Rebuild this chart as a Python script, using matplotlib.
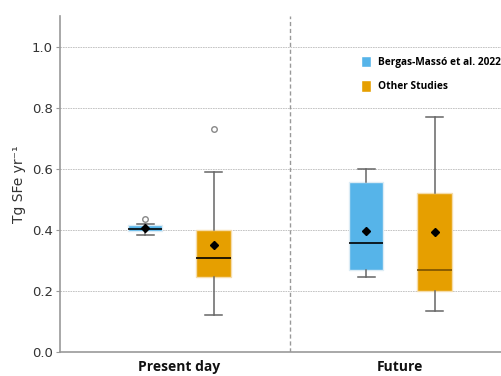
import matplotlib
matplotlib.use("Agg")
import matplotlib.pyplot as plt
from matplotlib.patches import Patch

groups = ["Present day", "Future"]
series = ["Bergas-Massó et al. 2022", "Other Studies"]
colors = ["#56B4E9", "#E69F00"]

# stats per (group, series): whislo, q1, med, q3, whishi, mean, outliers
whislo = [[0.383, 0.120], [0.246, 0.135]]
q1 = [[0.396, 0.246], [0.270, 0.199]]
med = [[0.404, 0.307], [0.358, 0.268]]
q3 = [[0.415, 0.401], [0.557, 0.521]]
whishi = [[0.421, 0.590], [0.601, 0.770]]
means = [[0.407, 0.350], [0.396, 0.392]]
fliers = [[[0.436], [0.730]], [[], []]]

fig = plt.figure(figsize=(5.02, 3.76), dpi=100)
ax = fig.add_axes([0.1195, 0.0638, 0.8805, 0.893])

offset = 0.155
width = 0.155
for gi in range(len(groups)):
    for si in range(len(series)):
        pos = gi + (si * 2 - 1) * offset
        st = dict(whislo=whislo[gi][si], q1=q1[gi][si], med=med[gi][si],
                  q3=q3[gi][si], whishi=whishi[gi][si], mean=means[gi][si],
                  fliers=fliers[gi][si])
        ax.bxp([st], positions=[pos], widths=width, patch_artist=True,
               showmeans=True, manage_ticks=False,
               boxprops=dict(facecolor=colors[si], edgecolor="#dcecf5" if si == 0 else "#f5dcaa", linewidth=1),
               medianprops=dict(color="black" if not (gi == 1 and si == 1) else "#7a5200", linewidth=1.2),
               whiskerprops=dict(color="#666666", linewidth=1.1),
               capprops=dict(color="#666666", linewidth=1.1),
               meanprops=dict(marker="D", markerfacecolor="black", markeredgecolor="black", markersize=4),
               flierprops=dict(marker="o", markerfacecolor="none", markeredgecolor="#888888", markersize=4))

ax.set_xlim(-0.54, 1.46)
ax.set_ylim(0, 1.1)
ax.set_yticks([0.0, 0.2, 0.4, 0.6, 0.8, 1.0])
ax.set_yticklabels(["0.0", "0.2", "0.4", "0.6", "0.8", "1.0"], fontsize=9.5, color="#333333")
ax.set_xticks([0, 1])
ax.set_xticklabels(groups, fontsize=10, fontweight="bold", family="Open Sans", color="#111111")
ax.tick_params(axis="x", length=0, pad=6)
ax.tick_params(axis="y", length=3, color="#999999", pad=2)
ax.set_ylabel("Tg SFe yr⁻¹", fontsize=10, color="#333333")
for y in [0.2, 0.4, 0.6, 0.8, 1.0]:
    ax.axhline(y, color="#bbbbbb", linestyle=(0, (2, 1)), linewidth=0.6, zorder=0)
ax.axvline(0.5, color="#999999", linestyle=(0, (3, 2)), linewidth=1.0, zorder=0)
for s in ["top", "right"]:
    ax.spines[s].set_visible(False)
for s in ["left", "bottom"]:
    ax.spines[s].set_color("#999999")
    ax.spines[s].set_linewidth(1.2)

handles = [Patch(facecolor=c, edgecolor="white", label=l) for c, l in zip(colors, series)]
leg = ax.legend(handles=handles, loc="upper left", bbox_to_anchor=(0.66, 0.91), frameon=False,
                prop=dict(family="Open Sans", weight="bold", size=7.3),
                handlelength=1.0, handleheight=1.4, handletextpad=0.7, labelspacing=1.2)

fig.savefig("out.png", dpi=100)
